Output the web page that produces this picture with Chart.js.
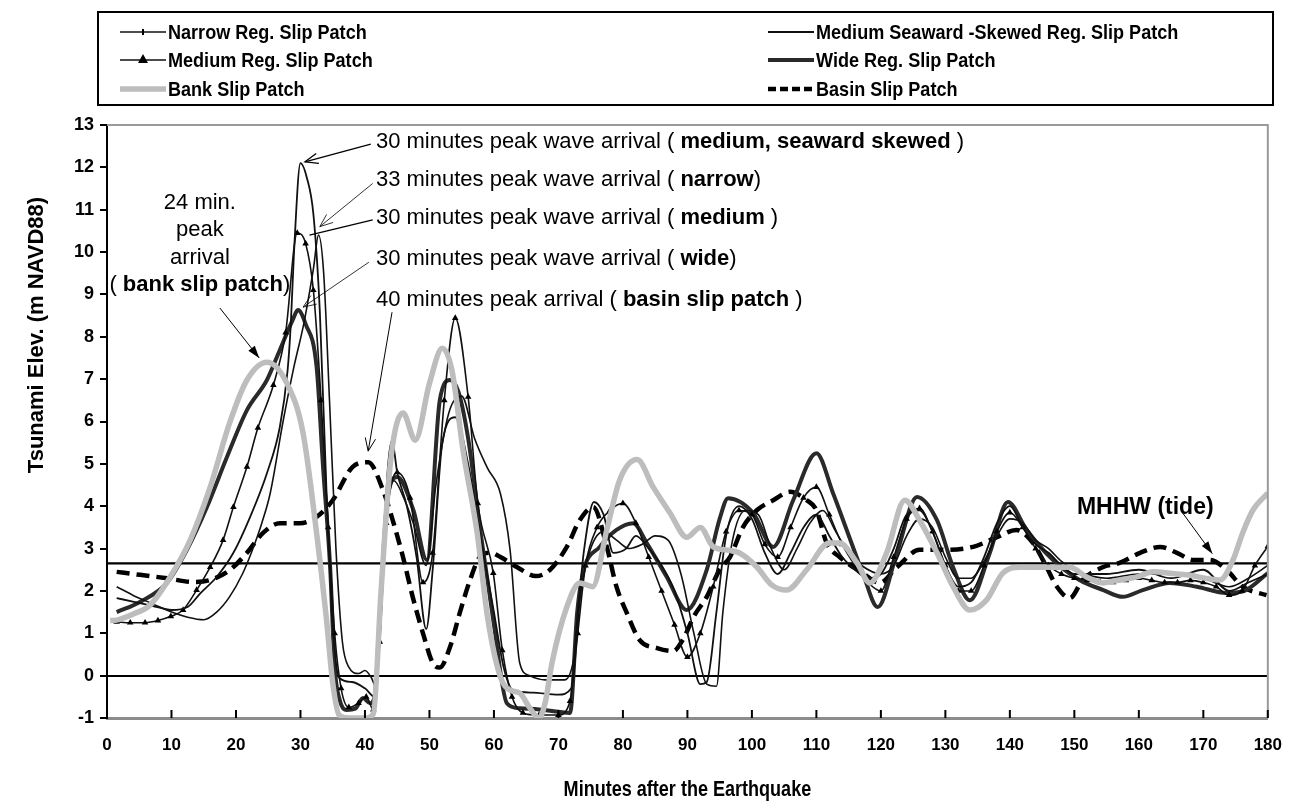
<!DOCTYPE html>
<html>
<head>
<meta charset="utf-8">
<title>Tsunami elevation by slip patch</title>
<script src="https://cdn.jsdelivr.net/npm/chart.js@4.4.0/dist/chart.umd.min.js"></script>
<style>
  body { margin: 0; background: #fff; }
  #wrap { width: 1299px; height: 808px; }
</style>
</head>
<body>
<div id="wrap"><canvas id="chart" width="1299" height="808"></canvas></div>
<script>
const SANS = "'Liberation Sans', Arial, sans-serif";

// time (minutes) / elevation (m NAVD88) pairs for each slip patch run
const narrowMin = [1.5, 4, 7, 10, 12.5, 15, 17, 19, 21, 22.5, 24, 25.3, 27.3, 29, 30.5, 32, 32.8, 33.6, 34.5, 35.5, 36.5, 37.5, 39, 40, 41, 41.8, 42.5, 43.5, 44.5, 46, 47.5, 49.5, 51, 53, 55, 57, 59, 61, 62.5, 64, 65.5, 68, 71, 72.5, 73.5, 75, 77, 79, 81, 83, 85, 87, 89, 91, 93, 94.5, 95.5, 97, 99, 101, 103, 105, 107, 109, 111, 113, 115, 117, 120, 122, 124, 126, 128, 130, 132, 134, 136, 138, 140, 142, 144, 146, 148, 150, 155, 160, 165, 170, 174, 177, 180];
const narrowElev = [2.1, 1.9, 1.7, 1.5, 1.38, 1.32, 1.5, 1.86, 2.4, 2.95, 3.6, 4.3, 6.0, 7.3, 8.3, 9.6, 10.4, 9.5, 6.5, 3.0, 0.8, 0.2, 0.05, 0.12, -0.05, -0.3, 2.0, 4.3, 4.6, 4.2, 3.6, 2.6, 4.5, 6.2, 6.6, 5.6, 4.9, 4.3, 2.97, 0.3, 0.0, -0.1, -0.1, 0.5, 2.0, 3.0, 3.4, 3.2, 3.0, 3.1, 3.3, 3.2, 2.4, 1.0, -0.2, -0.25, 1.5, 3.2, 3.9, 3.8, 3.0, 2.5, 3.0, 3.6, 3.9, 3.4, 2.9, 2.6, 2.4, 2.6, 3.3, 3.7, 3.5, 2.8, 2.3, 2.3, 2.7, 3.3, 3.7, 3.6, 3.2, 3.0, 2.7, 2.5, 2.3, 2.4, 2.4, 2.3, 2.1, 2.3, 2.6];

const seawardMin = [1.5, 4, 7, 10, 12.5, 14.5, 17, 19.6, 22.2, 24.8, 26.8, 28, 28.5, 29, 30, 31, 32, 33, 34, 35, 36, 38, 40, 41.5, 42.5, 43.5, 44.2, 45, 46.5, 48, 49.5, 50.5, 52, 54, 56, 58, 60, 61.5, 63, 66, 70, 72, 73, 74, 75.5, 77, 78.5, 80.5, 82, 84, 86, 88, 90, 92, 93, 94.5, 96, 98, 100, 102, 104, 106, 108, 110, 112, 114, 116, 118, 120, 122, 124, 126, 128, 130, 132, 134, 136, 138, 140, 142, 144, 146, 148, 150, 155, 160, 165, 170, 174, 177, 180];
const seawardElev = [1.83, 1.75, 1.65, 1.55, 1.62, 1.95, 2.33, 2.9, 3.75, 4.78, 5.87, 7.2, 8.3, 10.0, 12.1, 11.75, 10.9, 8.6, 4.5, 1.2, -0.05, -0.15, -0.3, -0.5, 1.5, 4.8, 5.55, 4.8, 4.0, 2.8, 1.1, 2.5, 5.5, 6.1, 5.0, 3.2, 1.5, 0.2, -0.35, -0.4, -0.45, -0.3, 1.5, 3.0, 4.1, 3.8, 2.9, 3.0, 3.3, 3.0, 2.6, 2.0, 1.0, -0.2, -0.15, 1.5, 3.3, 4.0, 3.7, 2.9, 2.4, 2.9, 3.5, 3.8, 3.3, 2.8, 2.5, 2.3, 2.4, 3.0, 3.8, 3.9, 3.4, 2.6, 2.1, 2.2, 2.8, 3.6, 4.0, 3.5, 3.1, 2.9, 2.6, 2.4, 2.4, 2.5, 2.3, 2.5, 2.0, 2.2, 2.4];

const mediumMin = [1.5, 3.6, 5.9, 7.9, 9.9, 11.8, 13.9, 16, 18, 19.6, 21.7, 23.4, 25.8, 27.7, 29.5, 30.8, 32, 33.2, 34.3, 35.3, 36.3, 37.5, 39, 40.2, 41.3, 42.3, 43.3, 45, 47, 49, 50.5, 52.3, 54, 56, 57.5, 59.9, 61.3, 62.8, 64.5, 67, 70, 71.8, 73, 74.2, 76, 78, 80, 82, 84, 86, 88, 90, 92, 94, 96, 98, 100, 102, 104, 106, 108, 110, 112, 114, 116, 118, 120, 122, 124, 126, 128, 130, 132, 134, 136, 138, 140, 142, 144, 146, 148, 150, 152, 154, 156, 158, 160, 162, 164, 166, 168, 170, 172, 174, 176, 178, 180];
const mediumElev = [1.27, 1.25, 1.25, 1.3, 1.4, 1.55, 2.02, 2.56, 3.2, 3.98, 4.93, 5.85, 6.86, 8.1, 10.45, 10.2, 9.1, 6.5, 3.5, 1.0, -0.3, -0.75, -0.65, -0.5, -0.8, 0.8, 3.6, 4.8, 4.2, 2.2, 2.9, 6.5, 8.44, 6.58, 4.07, 2.42, 0.6, -0.5, -0.88, -0.93, -0.93, -0.6, 1.0, 2.6, 3.5, 3.9, 4.07, 3.6, 2.8, 2.0, 1.2, 0.44, 1.0, 2.1, 3.4, 3.9, 3.8, 3.1, 2.8, 3.5, 4.2, 4.45, 3.8, 3.1, 2.6, 2.2, 2.0, 2.8, 3.7, 3.95, 3.4, 2.6, 2.0, 2.0, 2.6, 3.4, 3.85, 3.5, 3.0, 2.6, 2.4, 2.3, 2.25, 2.2, 2.2, 2.25, 2.3, 2.25, 2.2, 2.2, 2.25, 2.2, 2.1, 1.9, 2.0, 2.6, 3.05];

const wideMin = [1.5, 5.1, 9.3, 12.4, 15.5, 18.6, 21.7, 24.8, 26.8, 28.8, 29.6, 30.8, 32.5, 33.5, 34.6, 35.3, 36.1, 37.2, 38.5, 39.7, 40.8, 41.5, 42.5, 43.5, 45, 47.5, 49.6, 51.6, 53.2, 54.5, 56, 58, 60, 62, 64, 67, 70, 71.8, 72.9, 73.8, 76.4, 79, 81.6, 83.7, 86.8, 89.9, 93, 95, 96.3, 100.2, 103.3, 106.4, 110, 112.6, 114.7, 117.2, 119.5, 122.5, 125.6, 128.7, 131.2, 133.8, 136.9, 139.7, 142.6, 146.7, 150.8, 154.5, 157.5, 160.6, 164.8, 169, 173.6, 176.6, 180];
const wideElev = [1.5, 1.74, 2.19, 2.97, 3.98, 5.16, 6.27, 6.98, 7.69, 8.4, 8.63, 8.3, 7.29, 4.93, 2.56, 0.2, -0.58, -0.81, -0.78, -0.53, -0.65, -0.5, 2.0, 4.2, 4.69, 3.91, 2.73, 6.5, 6.98, 6.7, 5.6, 3.3, 1.2, -0.65, -0.77, -0.8, -0.85, -0.88, 1.48, 2.42, 3.04, 3.44, 3.6, 3.13, 2.33, 1.55, 2.5, 3.7, 4.19, 3.84, 3.04, 4.14, 5.25, 4.3, 3.44, 2.42, 1.62, 2.9, 4.22, 3.67, 2.56, 1.78, 2.9, 4.1, 3.44, 2.73, 2.26, 2.02, 1.86, 2.02, 2.19, 2.1, 1.95, 2.02, 2.42];

const bankMin = [0.5, 1.5, 4, 6.7, 9.8, 12.9, 16, 19, 21.7, 24.8, 27.9, 30.4, 32.5, 34, 35, 36, 37.5, 40, 41.3, 42.5, 44, 45.9, 47.8, 50, 52, 53.5, 55.2, 57.4, 59, 61, 62.5, 64, 65.5, 67, 68, 69, 71.3, 73.3, 75.3, 77.5, 79.5, 82.2, 84.7, 87.3, 89.9, 92, 94, 96, 98, 100.8, 103, 105.4, 108.5, 112, 113.6, 116.3, 118.3, 120.9, 123.7, 126, 128.7, 131.2, 133.8, 136.4, 138.9, 141.5, 144.2, 149.3, 151.9, 154.4, 157, 159.7, 162.2, 164.8, 167.4, 172.6, 174.6, 176.1, 177.7, 180];
const bankElev = [1.3, 1.31, 1.45, 1.67, 2.33, 3.2, 4.45, 5.96, 6.98, 7.4, 6.9, 5.73, 3.37, 1.38, -0.17, -0.93, -1.0, -1.0, -0.9, 2.0, 5.1, 6.2, 5.56, 6.9, 7.73, 7.2, 5.33, 3.37, 1.39, -0.03, -0.34, -0.41, -0.75, -1.0, -0.6, 0.3, 1.62, 2.19, 2.1, 3.44, 4.62, 5.1, 4.45, 3.84, 3.27, 3.5, 3.04, 2.97, 2.9, 2.56, 2.15, 2.02, 2.5, 3.13, 3.13, 2.66, 2.19, 2.9, 4.14, 3.67, 2.9, 2.1, 1.55, 1.79, 2.42, 2.56, 2.56, 2.56, 2.33, 2.19, 2.26, 2.33, 2.45, 2.42, 2.38, 2.26, 2.73, 3.37, 3.91, 4.31];

const basinMin = [1.5, 5.1, 9.3, 13.4, 16, 19.1, 21.7, 24.2, 26.8, 29.9, 32.5, 35, 38.1, 40.5, 42.8, 44.3, 45.9, 47.4, 49, 50.5, 51.6, 53.2, 54.7, 56.3, 57.8, 59.5, 61, 63.6, 66.5, 68.7, 71.3, 73.3, 75.4, 77.5, 79, 80.6, 82.6, 85.3, 87.8, 89.3, 91, 93, 95, 96.6, 98.6, 100.8, 103.3, 105.9, 108.5, 110, 111.6, 113.6, 117.2, 119.8, 122.5, 126, 130.2, 134.3, 138, 141, 143.6, 145.7, 147.3, 149.3, 151.3, 154.4, 157, 160.2, 163.3, 165.9, 168.4, 171, 173.6, 176.1, 179.8];
const basinElev = [2.45, 2.38, 2.3, 2.21, 2.26, 2.5, 2.9, 3.37, 3.6, 3.6, 3.75, 4.14, 4.93, 5.04, 4.38, 3.67, 2.8, 1.86, 1.0, 0.3, 0.19, 0.68, 1.48, 2.26, 2.8, 2.9, 2.8, 2.56, 2.35, 2.5, 3.04, 3.67, 3.98, 3.04, 2.1, 1.48, 0.84, 0.65, 0.58, 0.85, 1.4, 1.86, 2.5, 2.8, 3.5, 3.91, 4.14, 4.34, 4.14, 3.91, 3.13, 2.8, 2.42, 2.19, 2.56, 2.97, 2.97, 3.04, 3.27, 3.44, 3.13, 2.56, 2.1, 1.83, 2.26, 2.56, 2.66, 2.9, 3.04, 2.9, 2.73, 2.73, 2.5, 2.1, 1.9];

const mhhwLevel = 2.65;
const minuteRange = [0, 180];
const elevRange = [-1, 13];

function pts(mins, elev) {
  return mins.map((t, i) => ({ x: t, y: elev[i] }));
}

const legendRows = [
  ['Narrow Reg. Slip Patch', 'Medium Seaward -Skewed Reg. Slip Patch'],
  ['Medium Reg. Slip Patch', 'Wide Reg. Slip Patch'],
  ['Bank Slip Patch', 'Basin Slip Patch']
];

// peak callouts; positions in chart units (minutes, metres)
const peakNotes = [
  { at: [41.7, 12.6], runs: [['30 minutes peak wave arrival ( ', 0], ['medium, seaward skewed', 1], [' )', 0]],
    from: [40.9, 12.55], to: [30.7, 12.13], head: 'open', width: 1.3 },
  { at: [41.7, 11.7], runs: [['33 minutes peak wave arrival ( ', 0], ['narrow', 1], [')', 0]],
    from: [41.2, 11.62], to: [33.0, 10.6], head: 'open', width: 0.8 },
  { at: [41.7, 10.8], runs: [['30 minutes peak wave arrival ( ', 0], ['medium', 1], [' )', 0]],
    from: [41.2, 10.76], to: [31.4, 10.4], head: null, width: 1.3 },
  { at: [41.7, 9.83], runs: [['30 minutes peak wave arrival ( ', 0], ['wide', 1], [')', 0]],
    from: [40.6, 9.76], to: [30.4, 8.7], head: 'open', width: 0.8 },
  { at: [41.7, 8.87], runs: [['40 minutes peak arrival ( ', 0], ['basin slip patch', 1], [' )', 0]],
    from: [44.2, 8.58], to: [40.5, 5.3], head: 'open', width: 1 }
];
const bankNote = {
  at: [14.4, [11.16, 10.52, 9.86, 9.22]],
  lines: [[['24 min.', 0]], [['peak', 0]], [['arrival', 0]], [['( ', 0], ['bank slip patch', 1], [')', 0]]],
  from: [17.5, 8.68], to: [23.6, 7.5]
};
const tideNote = { at: [150.4, 3.96], text: 'MHHW (tide)', from: [166.8, 3.84], to: [171.4, 2.88] };

const noteFont = (bold) => (bold ? 'bold ' : '') + '22px ' + SANS;

function drawRuns(ctx, runs, x, y, align) {
  const widths = runs.map(([t, b]) => { ctx.font = noteFont(b); return ctx.measureText(t).width; });
  const total = widths.reduce((a, b) => a + b, 0);
  let cx = align === 'center' ? x - total / 2 : x;
  runs.forEach(([t, b], i) => {
    ctx.font = noteFont(b);
    ctx.fillText(t, cx, y);
    cx += widths[i];
  });
}

// text squeezed sideways, like a narrow face
function narrowText(ctx, text, x, y, size, squeeze, align) {
  ctx.save();
  ctx.font = 'bold ' + size + 'px ' + SANS;
  ctx.textAlign = align || 'left';
  ctx.translate(x, y);
  ctx.scale(squeeze, 1);
  ctx.fillText(text, 0, 0);
  ctx.restore();
}

function arrow(ctx, x1, y1, x2, y2, head) {
  ctx.beginPath();
  ctx.moveTo(x1, y1);
  ctx.lineTo(x2, y2);
  ctx.stroke();
  if (!head) return;
  const a = Math.atan2(y2 - y1, x2 - x1);
  const len = head === 'filled' ? 13 : 14, spread = head === 'filled' ? 0.32 : 0.38;
  ctx.beginPath();
  ctx.moveTo(x2 - len * Math.cos(a - spread), y2 - len * Math.sin(a - spread));
  ctx.lineTo(x2, y2);
  ctx.lineTo(x2 - len * Math.cos(a + spread), y2 - len * Math.sin(a + spread));
  if (head === 'filled') {
    ctx.closePath();
    ctx.fill();
  } else {
    ctx.stroke();
  }
}

const legendBox = {
  id: 'legendBox',
  afterDraw(chart) {
    const ctx = chart.ctx;
    ctx.save();
    ctx.strokeStyle = '#000';
    ctx.lineWidth = 2;
    ctx.strokeRect(98, 12, 1175, 93);
    const colX = [120, 768], rowY = [32, 60, 89];
    ctx.textBaseline = 'middle';
    ctx.fillStyle = '#000';
    legendRows.forEach((row, r) => row.forEach((label, c) => {
      const ds = chart.data.datasets.find(d => d.label === label);
      const x0 = colX[c], x1 = x0 + 46, y = rowY[r];
      ctx.save();
      ctx.strokeStyle = ds.borderColor;
      ctx.lineWidth = ds.borderWidth;
      ctx.setLineDash(ds.borderDash ? [8, 4] : []);
      ctx.beginPath();
      ctx.moveTo(x0, y);
      ctx.lineTo(x1, y);
      ctx.stroke();
      ctx.restore();
      const mx = (x0 + x1) / 2;
      if (ds.pointStyle === 'triangle') {
        ctx.beginPath();
        ctx.moveTo(mx, y - 6);
        ctx.lineTo(mx + 5, y + 3);
        ctx.lineTo(mx - 5, y + 3);
        ctx.closePath();
        ctx.fill();
      } else if (label.startsWith('Narrow')) {
        ctx.fillRect(mx - 1, y - 3, 2, 6);
      }
      narrowText(ctx, label, x1 + 2, y + 1, 21, 0.86);
    }));
    ctx.restore();
  }
};

const plotFrame = {
  id: 'plotFrame',
  afterDraw(chart) {
    const { ctx, chartArea: a, scales: { x } } = chart;
    ctx.save();
    ctx.strokeStyle = '#9a9a9a';
    ctx.lineWidth = 2;
    ctx.beginPath();
    ctx.moveTo(a.left, a.top);
    ctx.lineTo(a.right, a.top);
    ctx.lineTo(a.right, a.bottom);
    ctx.stroke();
    // x tick marks point up into the plot
    ctx.strokeStyle = '#000';
    ctx.lineWidth = 2;
    x.ticks.forEach(t => {
      if (t.value <= x.min) return;
      const px = x.getPixelForValue(t.value);
      ctx.beginPath();
      ctx.moveTo(px, a.bottom);
      ctx.lineTo(px, a.bottom - 8);
      ctx.stroke();
    });
    ctx.fillStyle = '#000';
    ctx.textBaseline = 'middle';
    narrowText(ctx, 'Minutes after the Earthquake', (a.left + a.right) / 2, 790, 22, 0.82, 'center');
    // y axis title
    ctx.translate(37, 335);
    ctx.rotate(-Math.PI / 2);
    ctx.font = 'bold 22px ' + SANS;
    ctx.textAlign = 'center';
    ctx.fillText('Tsunami Elev. (m NAVD88)', 0, 0);
    ctx.restore();
  }
};

const callouts = {
  id: 'callouts',
  afterDatasetsDraw(chart) {
    const { ctx, scales: { x, y } } = chart;
    const P = (p) => [x.getPixelForValue(p[0]), y.getPixelForValue(p[1])];
    ctx.save();
    ctx.fillStyle = '#000';
    ctx.strokeStyle = '#000';
    ctx.textBaseline = 'middle';
    peakNotes.forEach(n => {
      const [tx, ty] = P(n.at);
      drawRuns(ctx, n.runs, tx, ty, 'left');
      const [x1, y1] = P(n.from), [x2, y2] = P(n.to);
      ctx.lineWidth = n.width;
      arrow(ctx, x1, y1, x2, y2, n.head);
    });
    const cx = x.getPixelForValue(bankNote.at[0]);
    bankNote.lines.forEach((runs, i) => {
      drawRuns(ctx, runs, cx, y.getPixelForValue(bankNote.at[1][i]), 'center');
    });
    ctx.lineWidth = 1;
    let [a1, b1] = P(bankNote.from), [a2, b2] = P(bankNote.to);
    arrow(ctx, a1, b1, a2, b2, 'filled');
    const [mx, my] = P(tideNote.at);
    ctx.font = 'bold 23px ' + SANS;
    ctx.fillText(tideNote.text, mx, my);
    [a1, b1] = P(tideNote.from);
    [a2, b2] = P(tideNote.to);
    ctx.lineWidth = 1;
    arrow(ctx, a1, b1, a2, b2, 'filled');
    ctx.restore();
  }
};

const thin = { borderColor: '#111', borderWidth: 1.6, pointRadius: 0 };

new Chart(document.getElementById('chart'), {
  type: 'line',
  data: {
    datasets: [
      { label: 'Bank Slip Patch', data: pts(bankMin, bankElev), borderColor: '#bdbdbd', borderWidth: 5.5, pointRadius: 0, order: 0 },
      { label: 'Medium Seaward -Skewed Reg. Slip Patch', data: pts(seawardMin, seawardElev), ...thin, borderWidth: 1.8, order: 1 },
      { label: 'Narrow Reg. Slip Patch', data: pts(narrowMin, narrowElev), ...thin, order: 2 },
      { label: 'Medium Reg. Slip Patch', data: pts(mediumMin, mediumElev), ...thin, pointStyle: 'triangle',
        pointRadius: 3.8, pointBackgroundColor: '#000', pointBorderColor: '#000', pointBorderWidth: 0, order: 3 },
      { label: 'Wide Reg. Slip Patch', data: pts(wideMin, wideElev), borderColor: '#2a2a2a', borderWidth: 4, pointRadius: 0, order: 4 },
      { label: 'Basin Slip Patch', data: pts(basinMin, basinElev), borderColor: '#000', borderWidth: 4.5, borderDash: [13, 7], pointRadius: 0, order: 5 },
      { label: 'MHHW', data: [{ x: minuteRange[0], y: mhhwLevel }, { x: minuteRange[1], y: mhhwLevel }],
        borderColor: '#000', borderWidth: 2.2, pointRadius: 0, order: 6 }
    ]
  },
  options: {
    responsive: false,
    animation: false,
    devicePixelRatio: 1,
    elements: { line: { cubicInterpolationMode: 'monotone', fill: false } },
    layout: { padding: { top: 125, right: 31, left: 0, bottom: 0 } },
    plugins: { legend: { display: false }, tooltip: { enabled: false } },
    scales: {
      x: {
        type: 'linear',
        min: minuteRange[0],
        max: minuteRange[1],
        afterFit: (s) => { s.height = 90; },
        ticks: { stepSize: 10, autoSkip: false, maxRotation: 0, padding: 17, color: '#000',
                 font: { family: SANS, size: 17, weight: 'bold' } },
        grid: { display: false, drawTicks: false },
        border: { display: true, color: '#8c8c8c', width: 3 }
      },
      y: {
        min: elevRange[0],
        max: elevRange[1],
        afterFit: (s) => { s.width = 107; },
        ticks: { stepSize: 1, padding: 6, color: '#000', font: { family: SANS, size: 18, weight: 'bold' } },
        grid: {
          color: (c) => (c.tick && c.tick.value === 0 ? '#000' : 'rgba(0,0,0,0)'),
          lineWidth: 2,
          tickColor: '#000',
          tickLength: 7,
          tickWidth: 2
        },
        border: { display: true, color: '#000', width: 2 }
      }
    }
  },
  plugins: [legendBox, plotFrame, callouts]
});
</script>
</body>
</html>
